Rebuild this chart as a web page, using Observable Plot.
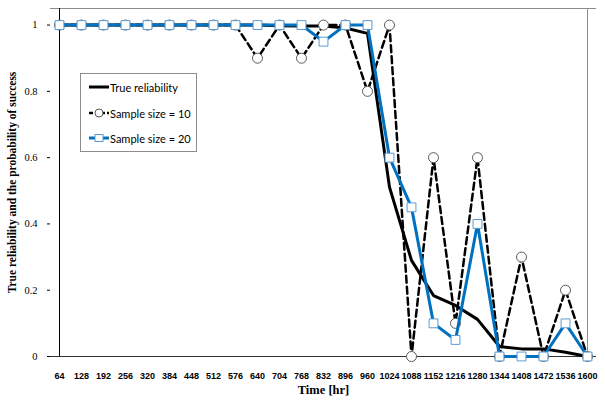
<!DOCTYPE html>
<html>
<head>
<meta charset="utf-8">
<script src="https://cdn.jsdelivr.net/npm/d3@7"></script>
<script src="https://cdn.jsdelivr.net/npm/@observablehq/plot@0.6"></script>
<style>
  html, body { margin: 0; padding: 0; background: #fff; }
  #wrap { position: relative; width: 605px; height: 404px; }
  #legend { position: absolute; left: 80px; top: 73px; width: 115px; height: 77px;
    border: 1px solid #8c8c8c; background: #fff; font-family: Lato, "Liberation Sans", sans-serif; font-size: 11px; color: #000; }
  .row { position: absolute; left: 8px; height: 14px; display: flex; align-items: center; }
  .row svg { display: block; }
  .row span { margin-left: 1px; white-space: nowrap; }
</style>
</head>
<body>
<div id="wrap"></div>
<script>
const times = ["64","128","192","256","320","384","448","512","576","640","704","768","832","896","960","1024","1088","1152","1216","1280","1344","1408","1472","1536","1600"];
const trueReliability = [1,1,1,1,1,1,1,1,1,1,0.998,0.997,0.997,0.991,0.975,0.511,0.29,0.184,0.154,0.112,0.03,0.023,0.023,0.013,0];
const sampleSize10 = [1,1,1,1,1,1,1,1,1,0.9,1,0.9,1,1,0.8,1,0,0.6,0.1,0.6,0,0.3,0,0.2,0];
const sampleSize20 = [1,1,1,1,1,1,1,1,1,1,1,1,0.95,1,1,0.6,0.45,0.1,0.05,0.4,0,0,0,0.1,0];
const yTicks = [0,0.2,0.4,0.6,0.8,1];
const legendLabels = ["True reliability","Sample size = 10","Sample size = 20"];

const rows = (vals) => times.map((t, i) => ({t, v: vals[i]}));
const dTrue = rows(trueReliability), d10 = rows(sampleSize10), d20 = rows(sampleSize20);
const serif = "'Liberation Serif', 'Times New Roman', serif";
const sans = "'Liberation Sans', Arial, sans-serif";

const chart = Plot.plot({
  width: 605, height: 404,
  marginLeft: 50, marginRight: 9, marginTop: 8, marginBottom: 48,
  style: {background: "#fff"},
  x: {type: "point", domain: times, padding: 0, axis: null},
  y: {domain: [0, 1.05], axis: null},
  marks: [
    Plot.ruleY([1.05], {stroke: "#8c8c8c", strokeWidth: 1}),
    Plot.ruleX([times[times.length - 1]], {stroke: "#8c8c8c", strokeWidth: 1, y1: 0, y2: 1.05}),
    Plot.axisY(yTicks, {tickSize: 3, tickPadding: 10, fontSize: 10.5, fontFamily: serif, stroke: "#000", label: null,
      tickFormat: d => String(d)}),
    Plot.axisX({tickSize: 0, tickPadding: 16.5, fontSize: 9, fontWeight: "bold", fontFamily: sans, label: null}),
    Plot.ruleX([times[0]], {stroke: "#000", strokeWidth: 1, y1: 0, y2: 1.05}),
    Plot.ruleY([0], {stroke: "#333", strokeWidth: 1}),
    Plot.text(["True reliability and the probability of success"], {frameAnchor: "left", textAnchor: "middle", dx: -38, rotate: -90,
      fontFamily: serif, fontWeight: "bold", fontSize: 11.5, fill: "#000"}),
    Plot.text(["Time [hr]"], {frameAnchor: "bottom", dy: 37, fontFamily: serif, fontWeight: "bold", fontSize: 12.5, fill: "#000"}),
    Plot.line(dTrue, {x: "t", y: "v", stroke: "#000", strokeWidth: 3}),
    Plot.line(d10, {x: "t", y: "v", stroke: "#000", strokeWidth: 2.5, strokeDasharray: "7,4"}),
    Plot.dot(d10, {x: "t", y: "v", r: 5, fill: "#fff", stroke: "#595959", strokeWidth: 1}),
    Plot.line(d20, {x: "t", y: "v", stroke: "#0070C0", strokeWidth: 3}),
    Plot.dot(d20, {x: "t", y: "v", symbol: "square", r: 5, fill: "#fff", stroke: "#5B9BD5", strokeWidth: 1})
  ]
});
const wrap = document.getElementById("wrap");
wrap.appendChild(chart);

const legend = document.createElement("div");
legend.id = "legend";
const samples = [
  `<svg width="20" height="10"><line x1="0" y1="5" x2="20" y2="5" stroke="#000" stroke-width="3"/></svg>`,
  `<svg width="20" height="10"><line x1="0" y1="5" x2="20" y2="5" stroke="#000" stroke-width="2.5" stroke-dasharray="4,2"/><circle cx="10" cy="5" r="4" fill="#fff" stroke="#595959"/></svg>`,
  `<svg width="20" height="10"><line x1="0" y1="5" x2="20" y2="5" stroke="#0070C0" stroke-width="3"/><rect x="6" y="1.5" width="8" height="7" fill="#fff" stroke="#5B9BD5"/></svg>`
];
const tops = [6, 32, 57];
legendLabels.forEach((lab, i) => {
  const r = document.createElement("div");
  r.className = "row";
  r.style.top = tops[i] + "px";
  r.innerHTML = samples[i] + `<span>${lab}</span>`;
  legend.appendChild(r);
});
wrap.appendChild(legend);
</script>
</body>
</html>
